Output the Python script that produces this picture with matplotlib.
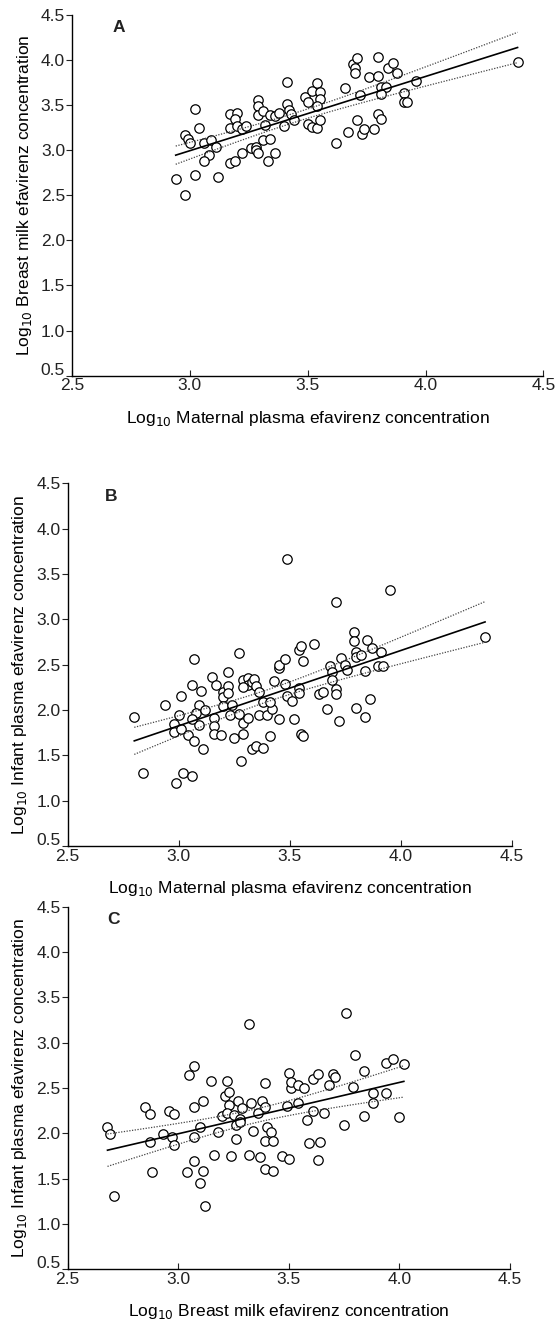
import numpy as np
import matplotlib
matplotlib.use("Agg")
import matplotlib.pyplot as plt
import matplotlib.transforms as mtrans

plt.rcParams.update({
    "font.family": ["Liberation Sans", "DejaVu Sans"],
    "font.size": 10,
    "axes.linewidth": 1.0,
    "text.color": "#222222",
    "xtick.color": "#222222",
    "ytick.color": "#222222",
})

# ── panel A: maternal plasma vs breast milk ────────────────────────────────
a_x = [2.94, 2.98, 3.02, 3.12, 3.02, 3.04, 2.98, 2.99, 3.00, 3.06, 3.09, 3.11,
       3.08, 3.06, 3.17, 3.19, 3.22, 3.17, 3.20, 3.19, 3.17, 3.20, 3.22, 3.24,
       3.26, 3.28, 3.28, 3.29, 3.33, 3.36, 3.31, 3.34, 3.29, 3.29, 3.29, 3.31,
       3.32, 3.34, 3.36, 3.38, 3.41, 3.42, 3.43, 3.40, 3.41, 3.44, 3.49, 3.50,
       3.52, 3.54, 3.55, 3.55, 3.54, 3.50, 3.52, 3.54, 3.55, 3.62, 3.66, 3.67,
       3.71, 3.73, 3.74, 3.78, 3.80, 3.81, 3.69, 3.70, 3.70, 3.71, 3.72, 3.76,
       3.80, 3.80, 3.81, 3.83, 3.81, 3.84, 3.86, 3.88, 3.91, 3.91, 3.92, 3.96,
       4.39]
a_y = [2.68, 2.50, 2.72, 2.70, 3.46, 3.25, 3.17, 3.12, 3.08, 3.08, 3.11, 3.04,
       2.95, 2.88, 2.86, 2.88, 2.97, 3.40, 3.41, 3.35, 3.25, 3.27, 3.23, 3.27,
       3.02, 3.04, 3.00, 2.97, 2.88, 2.97, 3.11, 3.12, 3.56, 3.49, 3.39, 3.43,
       3.28, 3.39, 3.38, 3.41, 3.51, 3.45, 3.40, 3.27, 3.76, 3.34, 3.59, 3.53,
       3.66, 3.74, 3.65, 3.57, 3.49, 3.29, 3.26, 3.25, 3.33, 3.08, 3.69, 3.20,
       3.34, 3.18, 3.23, 3.24, 3.40, 3.35, 3.96, 3.91, 3.86, 4.02, 3.61, 3.81,
       3.82, 4.03, 3.70, 3.70, 3.62, 3.91, 3.97, 3.86, 3.64, 3.53, 3.53, 3.77,
       3.98]

# ── panel B: maternal plasma vs infant plasma ──────────────────────────────
b_x = [2.80, 2.84, 2.94, 2.99, 3.02, 3.06, 3.01, 3.00, 2.98, 2.98, 3.01, 3.04,
       3.06, 3.07, 3.10, 3.09, 3.08, 3.09, 3.07, 3.11, 3.06, 3.12, 3.15, 3.17,
       3.16, 3.16, 3.16, 3.19, 3.20, 3.20, 3.20, 3.22, 3.22, 3.22, 3.24, 3.23,
       3.25, 3.27, 3.27, 3.29, 3.29, 3.28, 3.31, 3.29, 3.31, 3.31, 3.29, 3.33,
       3.34, 3.35, 3.36, 3.38, 3.36, 3.33, 3.35, 3.38, 3.41, 3.40, 3.42, 3.41,
       3.43, 3.45, 3.45, 3.45, 3.48, 3.48, 3.49, 3.49, 3.51, 3.52, 3.54, 3.54,
       3.54, 3.55, 3.56, 3.55, 3.56, 3.61, 3.63, 3.65, 3.67, 3.68, 3.69, 3.69,
       3.71, 3.71, 3.71, 3.72, 3.73, 3.75, 3.76, 3.79, 3.79, 3.80, 3.80, 3.82,
       3.80, 3.85, 3.87, 3.84, 3.86, 3.84, 3.90, 3.91, 3.92, 3.95, 4.38]
b_y = [1.92, 1.30, 2.06, 1.19, 1.31, 1.27, 2.16, 1.95, 1.85, 1.76, 1.79, 1.72,
       2.28, 2.56, 2.21, 2.05, 1.97, 1.83, 1.66, 1.57, 1.90, 2.00, 2.36, 2.28,
       1.91, 1.82, 1.74, 1.72, 2.20, 2.14, 2.04, 2.42, 2.26, 2.19, 2.06, 1.94,
       1.69, 2.63, 1.96, 1.86, 1.74, 1.44, 1.91, 2.33, 2.35, 2.28, 2.25, 2.31,
       2.34, 2.26, 2.20, 2.09, 1.94, 1.57, 1.60, 1.58, 1.71, 1.94, 2.01, 2.09,
       2.32, 1.90, 2.46, 2.50, 2.56, 2.29, 2.15, 3.67, 2.10, 1.90, 2.24, 2.19,
       2.66, 2.71, 2.54, 1.74, 1.71, 2.73, 2.18, 2.20, 2.01, 2.49, 2.42, 2.33,
       3.19, 2.23, 2.18, 1.88, 2.57, 2.50, 2.44, 2.86, 2.76, 2.64, 2.58, 2.61,
       2.02, 2.77, 2.68, 2.43, 2.12, 1.92, 2.48, 2.64, 2.49, 3.32, 2.81]

# ── panel C: breast milk vs infant plasma ──────────────────────────────────
c_x = [2.68, 2.69, 2.71, 2.85, 2.87, 2.87, 2.88, 2.93, 2.96, 2.98, 2.97, 2.98,
       3.04, 3.05, 3.07, 3.07, 3.07, 3.07, 3.10, 3.11, 3.11, 3.10, 3.12, 3.15,
       3.16, 3.18, 3.20, 3.21, 3.22, 3.23, 3.23, 3.22, 3.24, 3.25, 3.26, 3.26,
       3.27, 3.28, 3.29, 3.28, 3.32, 3.32, 3.33, 3.34, 3.36, 3.37, 3.38, 3.39,
       3.39, 3.39, 3.39, 3.40, 3.42, 3.43, 3.43, 3.47, 3.49, 3.50, 3.50, 3.51,
       3.51, 3.54, 3.54, 3.57, 3.58, 3.59, 3.61, 3.61, 3.63, 3.63, 3.64, 3.66,
       3.68, 3.70, 3.71, 3.75, 3.76, 3.79, 3.80, 3.84, 3.84, 3.88, 3.88, 3.94,
       3.97, 3.94, 4.00, 4.02]
c_y = [2.07, 1.99, 1.31, 2.29, 2.21, 1.90, 1.57, 1.99, 2.25, 2.21, 1.96, 1.87,
       1.57, 2.64, 2.74, 2.29, 1.96, 1.69, 2.07, 2.36, 1.58, 1.45, 1.20, 2.58,
       1.76, 2.02, 2.19, 2.41, 2.58, 2.46, 2.31, 2.22, 1.75, 2.20, 2.09, 1.94,
       2.36, 2.16, 2.28, 2.12, 3.21, 1.76, 2.34, 2.03, 2.22, 1.74, 2.36, 2.56,
       2.29, 1.92, 1.61, 2.07, 2.01, 1.92, 1.58, 1.75, 2.30, 2.67, 1.72, 2.50,
       2.57, 2.34, 2.53, 2.50, 2.15, 1.89, 2.60, 2.25, 2.65, 1.71, 1.90, 2.22,
       2.53, 2.65, 2.62, 2.09, 3.33, 2.51, 2.86, 2.69, 2.19, 2.44, 2.33, 2.78,
       2.82, 2.44, 2.18, 2.77]

PANELS = [
    ("A", a_x, a_y, "Log$_{10}$ Maternal plasma efavirenz concentration",
     "Log$_{10}$ Breast milk efavirenz concentration"),
    ("B", b_x, b_y, "Log$_{10}$ Maternal plasma efavirenz concentration",
     "Log$_{10}$ Infant plasma efavirenz concentration"),
    ("C", c_x, c_y, "Log$_{10}$ Breast milk efavirenz concentration",
     "Log$_{10}$ Infant plasma efavirenz concentration"),
]

# axes rectangles in figure fractions (left, bottom, width, height)
RECTS = [
    (0.129, 0.7165, 0.845, 0.2722),
    (0.1213, 0.3615, 0.7957, 0.2737),
    (0.1213, 0.0420, 0.7927, 0.2737),
]
LETTER_X = [0.087, 0.084, 0.089]

fig = plt.figure(figsize=(5.58, 13.25), dpi=100)

for (letter, xs, ys, xlab, ylab), rect, lx in zip(PANELS, RECTS, LETTER_X):
    ax = fig.add_axes(rect)
    x = np.asarray(xs)
    y = np.asarray(ys)

    ax.scatter(x, y, s=46, facecolors="white", edgecolors="black",
               linewidths=0.9, zorder=3)

    # least-squares fit with 95% confidence band
    slope, icpt = np.polyfit(x, y, 1)
    n = len(x)
    resid = y - (icpt + slope * x)
    s = np.sqrt(np.sum(resid ** 2) / (n - 2))
    sxx = np.sum((x - x.mean()) ** 2)
    gx = np.linspace(x.min(), x.max(), 100)
    fit = icpt + slope * gx
    half = 1.98 * s * np.sqrt(1 / n + (gx - x.mean()) ** 2 / sxx)
    ax.plot(gx, fit, color="black", lw=1.2, zorder=4)
    ax.plot(gx, fit + half, color="#444444", lw=0.9, ls=(0, (1, 1.2)), zorder=4)
    ax.plot(gx, fit - half, color="#444444", lw=0.9, ls=(0, (1, 1.2)), zorder=4)

    ax.set_xlim(2.5, 4.5)
    ax.set_ylim(0.5, 4.5)
    ax.set_xticks(np.arange(2.5, 4.51, 0.5))
    ax.set_yticks(np.arange(0.5, 4.51, 0.5))
    ax.xaxis.set_major_formatter(matplotlib.ticker.FormatStrFormatter("%.1f"))
    ax.yaxis.set_major_formatter(matplotlib.ticker.FormatStrFormatter("%.1f"))
    ax.tick_params(axis="x", direction="in", length=4, pad=2, labelsize=12.5)
    ax.tick_params(axis="y", direction="out", length=4, pad=1, labelsize=12.5)
    for side in ("top", "right"):
        ax.spines[side].set_visible(False)
    ax.set_xlabel(xlab, fontsize=12.5, labelpad=11)
    ax.set_ylabel(ylab, fontsize=12.5, labelpad=5)
    ax.text(lx, 0.985, letter, transform=ax.transAxes, fontsize=12.5,
            fontweight="bold", va="top", ha="left")

    # lift the bottom y label a little so it clears the first x label
    fig.canvas.draw()
    low = ax.get_yticklabels()[0]
    low.set_transform(low.get_transform() +
                      mtrans.ScaledTranslation(0, 5 / 72, fig.dpi_scale_trans))

fig.savefig("out.png", dpi=100, facecolor="white")
